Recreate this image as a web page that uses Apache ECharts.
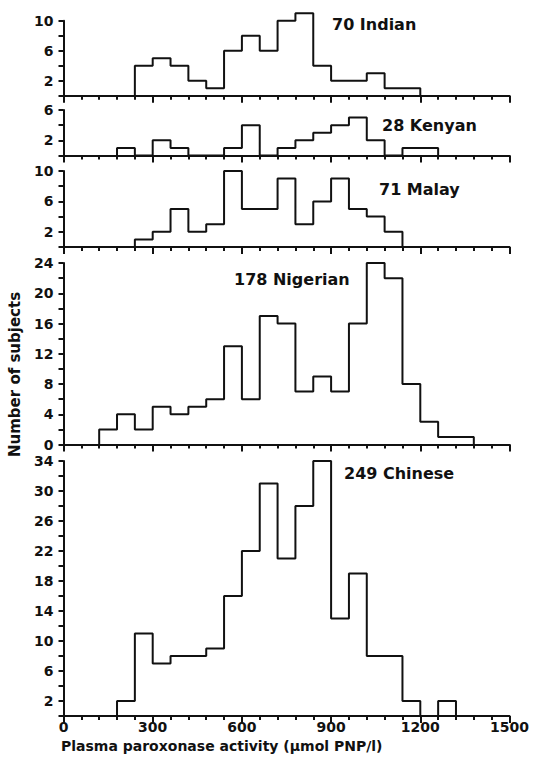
<!DOCTYPE html>
<html>
<head>
<meta charset="utf-8">
<script src="https://cdn.jsdelivr.net/npm/echarts@6/dist/echarts.min.js"></script>
<style>
html,body{margin:0;padding:0;background:#fff;}
#chart{width:539px;height:763px;}
</style>
</head>
<body>
<div id="chart"></div>
<script>
// Bin width (umol PNP/l) and the first bin edge of each histogram
const binWidth = 60;
const indianStart = 240;
const indianCounts = [4, 5, 4, 2, 1, 6, 8, 6, 10, 11, 4, 2, 2, 3, 1, 1];
const kenyanStart = 180;
const kenyanCounts = [1, 0, 2, 1, 0, 0, 1, 4, 0, 1, 2, 3, 4, 5, 2, 0, 1, 1];
const malayStart = 240;
const malayCounts = [1, 2, 5, 2, 3, 10, 5, 5, 9, 3, 6, 9, 5, 4, 2];
const nigerianStart = 120;
const nigerianCounts = [2, 4, 2, 5, 4, 5, 6, 13, 6, 17, 16, 7, 9, 7, 16, 24, 22, 8, 3, 1, 1];
const chineseStart = 180;
const chineseCounts = [2, 11, 7, 8, 8, 9, 16, 22, 31, 21, 28, 34, 13, 19, 8, 8, 2, 0, 2];

const panelLabels = ['70 Indian', '28 Kenyan', '71 Malay', '178 Nigerian', '249 Chinese'];
const yMax = [10, 6, 10, 24, 34];
const yLabelOffset = [2, 2, 2, 0, 2]; // labelled ticks: every 4 from this value
const xTicks = [0, 300, 600, 900, 1200, 1500];
const xTitle = 'Plasma paroxonase activity (\u03bcmol PNP/l)';
const yTitle = 'Number of subjects';

function stepData(start, counts) {
  const pts = [[start, 0]];
  counts.forEach((c, i) => pts.push([start + i * binWidth, c]));
  pts.push([start + counts.length * binWidth, 0]);
  return pts;
}
const seriesData = [
  stepData(indianStart, indianCounts),
  stepData(kenyanStart, kenyanCounts),
  stepData(malayStart, malayCounts),
  stepData(nigerianStart, nigerianCounts),
  stepData(chineseStart, chineseCounts)
];

const FONT = '"DejaVu Sans"';
const INK = '#111';
const grids = [
  {top: 20.7, height: 75},
  {top: 110, height: 45.5},
  {top: 171, height: 76},
  {top: 263, height: 181.5},
  {top: 461, height: 255}
].map(g => Object.assign({left: 63.5, right: 29.5}, g));

const xAxes = grids.map((g, i) => ({
  type: 'value', gridIndex: i, min: xTicks[0], max: xTicks[xTicks.length - 1],
  interval: xTicks[1] - xTicks[0],
  axisLine: {lineStyle: {color: INK, width: 2}},
  axisTick: {show: true, length: 7, lineStyle: {color: INK, width: 2}},
  minorTick: {show: true, splitNumber: 5, length: 4, lineStyle: {color: INK, width: 2}},
  splitLine: {show: false},
  axisLabel: {show: i === 4, margin: 4, color: INK, fontFamily: FONT, fontSize: 14, fontWeight: 'bold',
    formatter: v => String(v), showMinLabel: true, showMaxLabel: true}
}));

const yAxes = grids.map((g, i) => ({
  type: 'value', gridIndex: i, min: 0, max: yMax[i], interval: 2,
  axisLine: {show: true, lineStyle: {color: INK, width: 2}},
  axisTick: {show: true, length: 5, lineStyle: {color: INK, width: 2}},
  splitLine: {show: false},
  axisLabel: {
    margin: 10, color: INK, fontFamily: FONT, fontSize: 14, fontWeight: 'bold',
    formatter: v => ((v - yLabelOffset[i]) % 4 === 0 && v >= yLabelOffset[i]) ? String(v) : ''
  }
}));

const series = seriesData.map((d, i) => ({
  type: 'line', xAxisIndex: i, yAxisIndex: i, data: d, step: 'end',
  symbol: 'none', clip: false, silent: true,
  lineStyle: {color: INK, width: 2}
}));

const labelPos = [
  {x: 332, y: 24.5}, {x: 382, y: 125.5}, {x: 379, y: 189.5}, {x: 234, y: 279}, {x: 344, y: 473}
];
const graphics = panelLabels.map((t, i) => ({
  type: 'text', x: labelPos[i].x, y: labelPos[i].y,
  style: {text: t, fill: INK, font: 'bold 16px ' + FONT, textAlign: 'left', textVerticalAlign: 'middle'}
}));
graphics.push({
  type: 'text', x: 61, y: 746,
  style: {text: xTitle, fill: INK, font: 'bold 14px ' + FONT, textAlign: 'left', textVerticalAlign: 'middle'}
});
graphics.push({
  type: 'text', x: 15, y: 457, rotation: Math.PI / 2,
  style: {text: yTitle, fill: INK, font: 'bold 15px ' + FONT, textAlign: 'left', textVerticalAlign: 'middle'}
});

const chart = echarts.init(document.getElementById('chart'), null, {renderer: 'svg'});
chart.setOption({
  backgroundColor: '#fff',
  animation: false,
  grid: grids,
  xAxis: xAxes,
  yAxis: yAxes,
  series: series,
  graphic: graphics
});
</script>
</body>
</html>
